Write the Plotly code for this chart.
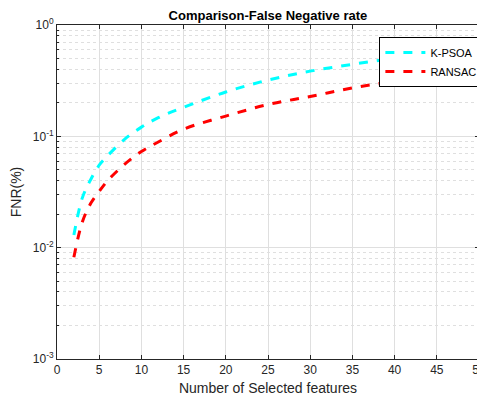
import plotly.graph_objects as go

features = [2, 3, 4, 5, 6, 8, 10, 12, 15, 20, 25, 30, 35, 40, 45, 50]
kpsoa = [0.013, 0.028, 0.041, 0.055, 0.067, 0.094, 0.121, 0.147, 0.182, 0.25, 0.32, 0.385, 0.443, 0.505, 0.57, 0.64]
ransac = [0.0082, 0.017, 0.025, 0.032, 0.04, 0.056, 0.073, 0.089, 0.116, 0.152, 0.193, 0.228, 0.272, 0.312, 0.358, 0.402]

x_ticks = list(range(0, 51, 5))
y_tickvals = [0.001, 0.01, 0.1, 1]
y_ticktext = ["10<sup>-3</sup>", "10<sup>-2</sup>", "10<sup>-1</sup>", "10<sup>0</sup>"]
y_minor = [m * d for d in (0.001, 0.01, 0.1) for m in range(2, 10)]

axis_color = "#262626"
grid_color = "#dfdfdf"

fig = go.Figure()
fig.add_trace(go.Scatter(x=features, y=kpsoa, mode="lines", name="K-PSOA",
                         line=dict(color="#00FFFF", width=3, dash="dash", shape="spline")))
fig.add_trace(go.Scatter(x=features, y=ransac, mode="lines", name="RANSAC",
                         line=dict(color="#FF0000", width=3, dash="dash", shape="spline")))

fig.update_layout(
    width=477, height=395,
    margin=dict(l=49, r=6, t=17, b=44, autoexpand=False),
    paper_bgcolor="white", plot_bgcolor="white",
    font=dict(family="Liberation Sans, Arial, sans-serif", color=axis_color, size=12),
    title=dict(text="<b>Comparison-False Negative rate</b>", x=0.545, xanchor="center",
               y=1.0, yanchor="top", pad=dict(t=3, b=0),
               font=dict(size=13, color="black")),
    legend=dict(x=1.008, xanchor="right", y=0.964, yanchor="top",
                bgcolor="white", bordercolor="black", borderwidth=1,
                font=dict(size=11, color="black"), tracegroupgap=0, itemwidth=40),
    showlegend=True,
)

fig.update_xaxes(
    range=[0, 50], tickvals=x_ticks, ticks="inside", ticklen=4, tickcolor=axis_color,
    showline=True, linecolor=axis_color, linewidth=1, mirror="ticks",
    showgrid=True, gridcolor=grid_color, gridwidth=1, zeroline=False, automargin=False,
    ticklabeloverflow="allow",
    title=dict(text="Number of Selected features", font=dict(size=14), standoff=6),
    tickfont=dict(size=12),
)
fig.update_yaxes(
    type="log", range=[-3, 0], tickvals=y_tickvals, ticktext=y_ticktext,
    ticks="inside", ticklen=4, tickcolor=axis_color,
    showline=True, linecolor=axis_color, linewidth=1, mirror="ticks",
    showgrid=True, gridcolor=grid_color, gridwidth=1, zeroline=False, automargin=False,
    ticklabeloverflow="allow",
    minor=dict(tickvals=y_minor, ticks="inside", ticklen=2, tickcolor=axis_color, showgrid=True,
               gridcolor=grid_color, griddash="dot", gridwidth=1),
    title=dict(text="FNR(%)", font=dict(size=14), standoff=8),
    tickfont=dict(size=12),
)

fig.write_html("out.html")
